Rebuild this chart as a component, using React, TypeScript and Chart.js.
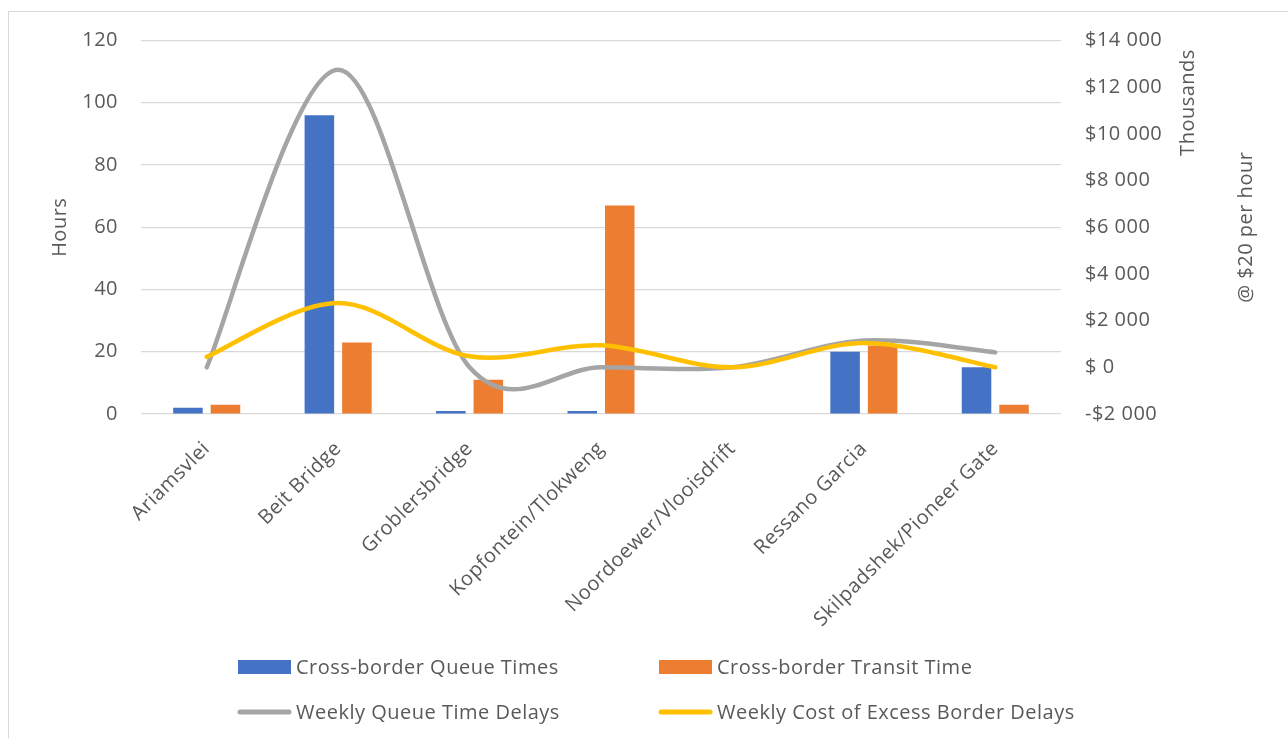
import React, { useEffect, useRef } from "react";
import { Chart, registerables } from "chart.js";

Chart.register(...registerables);

const categories = [
  "Ariamsvlei",
  "Beit Bridge",
  "Groblersbridge",
  "Kopfontein/Tlokweng",
  "Noordoewer/Vlooisdrift",
  "Ressano Garcia",
  "Skilpadshek/Pioneer Gate",
];
const queueTimes = [2, 96, 1, 1, 0, 20, 15];
const transitTimes = [3, 23, 11, 67, 0, 22, 3];
const weeklyQueueDelays = [0, 12750, 0, 0, 0, 1150, 640];
const weeklyCost = [450, 2750, 470, 940, 0, 1040, 0];

const seriesNames = [
  "Cross-border Queue Times",
  "Cross-border Transit Time",
  "Weekly Queue Time Delays",
  "Weekly Cost of Excess Border Delays",
];

const hoursMin = 0;
const hoursMax = 120;
const hoursStep = 20;
const costMin = -2000;
const costMax = 14000;
const costStep = 2000;

const leftTitle = "Hours";
const rightTitle = "@ $20 per hour";
const unitsLabel = "Thousands";

const FONT = "'Open Sans', sans-serif";
const TEXT = "#595959";
const FS = 20;
const SPACING = "0.5px";

function fmtCost(v: number): string {
  if (v === 0) return "$ 0";
  const abs = Math.abs(v);
  const s = abs.toString().replace(/\B(?=(\d{3})+(?!\d))/g, " ");
  return (v < 0 ? "-$" : "$") + s;
}

const spacingPlugin = {
  id: "spacing",
  beforeUpdate(chart: any) {
    (chart.ctx as any).letterSpacing = SPACING;
  },
  beforeDraw(chart: any) {
    (chart.ctx as any).letterSpacing = SPACING;
  },
};

// Excel-like smoothing (Catmull-Rom with 1/6 control offsets)
const smoothPlugin = {
  id: "excelSmooth",
  beforeDatasetsDraw(chart: any) {
    chart.data.datasets.forEach((ds: any, i: number) => {
      if (ds.type !== "line") return;
      const meta = chart.getDatasetMeta(i);
      const pts = meta.data;
      for (let k = 0; k < pts.length; k++) {
        const p = pts[k];
        const prev = pts[k - 1] || p;
        const next = pts[k + 1] || p;
        const dx = (next.x - prev.x) / 6;
        const dy = (next.y - prev.y) / 6;
        p.cp1x = p.x - dx;
        p.cp1y = p.y - dy;
        p.cp2x = p.x + dx;
        p.cp2y = p.y + dy;
      }
      if (meta.dataset) meta.dataset._pointsUpdated = true;
    });
  },
};

const decorPlugin = {
  id: "decor",
  afterDraw(chart: any) {
    const ctx = chart.ctx;
    const area = chart.chartArea;
    ctx.save();
    (ctx as any).letterSpacing = SPACING;
    ctx.fillStyle = TEXT;
    ctx.font = `${FS}px ${FONT}`;
    ctx.textAlign = "center";
    ctx.textBaseline = "middle";
    // right-axis titles (rotated, reading bottom-to-top)
    ctx.save();
    ctx.translate(area.right + 127, area.top + 62);
    ctx.rotate(-Math.PI / 2);
    ctx.fillText(unitsLabel, 0, 0);
    ctx.restore();
    ctx.save();
    ctx.translate(area.right + 185, (area.top + area.bottom) / 2);
    ctx.rotate(-Math.PI / 2);
    ctx.fillText(rightTitle, 0, 0);
    ctx.restore();

    // legend
    const ds = chart.data.datasets;
    const cols = [229, 650];
    const rows = [655, 700];
    ctx.textAlign = "left";
    ds.forEach((d: any, i: number) => {
      const x = cols[i % 2];
      const y = rows[Math.floor(i / 2)];
      if (d.type === "line") {
        ctx.strokeStyle = d.borderColor;
        ctx.lineWidth = 5;
        ctx.lineCap = "round";
        ctx.beginPath();
        ctx.moveTo(x + 2, y);
        ctx.lineTo(x + 51, y);
        ctx.stroke();
      } else {
        ctx.fillStyle = d.backgroundColor;
        ctx.fillRect(x, y - 7, 53, 14);
      }
      ctx.fillStyle = TEXT;
      ctx.fillText(d.label, x + 58, y + 1);
    });
    ctx.restore();
  },
};

export default function App() {
  const ref = useRef<HTMLCanvasElement | null>(null);
  useEffect(() => {
    if (!ref.current) return;
    const chart = new Chart(ref.current, {
      type: "bar",
      data: {
        labels: categories,
        datasets: [
          {
            type: "bar",
            label: seriesNames[0],
            data: queueTimes,
            backgroundColor: "#4472C4",
            yAxisID: "y",
            order: 2,
            categoryPercentage: 0.571,
            barPercentage: 0.787,
          },
          {
            type: "bar",
            label: seriesNames[1],
            data: transitTimes,
            backgroundColor: "#ED7D31",
            yAxisID: "y",
            order: 2,
            categoryPercentage: 0.571,
            barPercentage: 0.787,
          },
          {
            type: "line",
            label: seriesNames[2],
            data: weeklyQueueDelays,
            borderColor: "#A5A5A5",
            backgroundColor: "#A5A5A5",
            borderWidth: 4.5,
            pointRadius: 0,
            tension: 0.4,
            capBezierPoints: false,
            borderCapStyle: "round",
            yAxisID: "y1",
            order: 1,
          },
          {
            type: "line",
            label: seriesNames[3],
            data: weeklyCost,
            borderColor: "#FFC000",
            backgroundColor: "#FFC000",
            borderWidth: 4.5,
            pointRadius: 0,
            tension: 0.4,
            capBezierPoints: false,
            borderCapStyle: "round",
            yAxisID: "y1",
            order: 0,
          },
        ] as any,
      },
      options: {
        responsive: false,
        animation: false,
        layout: { padding: { top: 28.5, left: 0, right: 0, bottom: 0 } },
        plugins: {
          legend: { display: false },
          tooltip: { enabled: false },
        },
        scales: {
          x: {
            grid: { display: false },
            border: { display: false },
            ticks: {
              color: TEXT,
              font: { family: FONT, size: FS },
              minRotation: 45,
              maxRotation: 45,
              padding: 15,
              autoSkip: false,
            },
            afterFit(scale: any) {
              scale.height = 324;
            },
          },
          y: {
            position: "left",
            min: hoursMin,
            max: hoursMax,
            ticks: {
              stepSize: hoursStep,
              color: TEXT,
              font: { family: FONT, size: FS },
              padding: 23,
            },
            grid: { color: "#D9D9D9", lineWidth: 1.2, drawTicks: false },
            border: { display: false },
            title: {
              display: true,
              text: leftTitle,
              color: TEXT,
              font: { family: FONT, size: FS },
              padding: { top: 39, bottom: 0 },
            },
            afterFit(scale: any) {
              scale.width = 132;
              scale.paddingTop = 0;
              scale.paddingBottom = 0;
            },
          },
          y1: {
            position: "right",
            min: costMin,
            max: costMax,
            ticks: {
              stepSize: costStep,
              color: TEXT,
              font: { family: FONT, size: FS },
              padding: 24,
              callback: (v: any) => fmtCost(Number(v)),
            },
            grid: { display: false, drawTicks: false },
            border: { display: false },
            afterFit(scale: any) {
              scale.width = 227;
              scale.paddingTop = 0;
              scale.paddingBottom = 0;
            },
          },
        },
      } as any,
      plugins: [spacingPlugin, smoothPlugin, decorPlugin],
    });
    return () => chart.destroy();
  }, []);

  return (
    <div
      style={{
        position: "fixed",
        left: 8,
        top: 11,
        width: 1279,
        height: 726,
        borderLeft: "1px solid #D9D9D9",
        borderTop: "1px solid #D9D9D9",
        background: "#fff",
      }}
    >
      <canvas ref={ref} width={1279} height={726} style={{ width: 1279, height: 726, display: "block" }} />
    </div>
  );
}
